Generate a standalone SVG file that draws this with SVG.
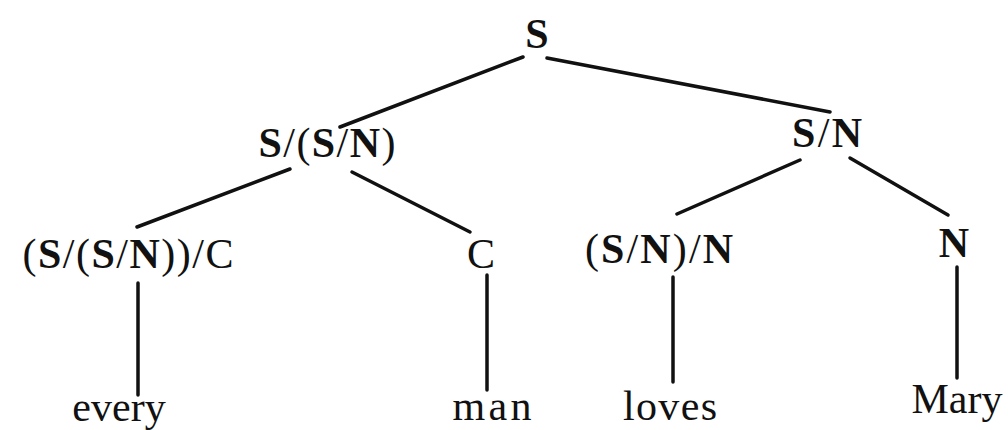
<svg xmlns="http://www.w3.org/2000/svg" width="1008" height="430" viewBox="0 0 1008 430">
<style>
.t{font-family:"Liberation Serif","Times New Roman",serif;font-size:42px;fill:#111;text-anchor:middle}
.b{font-weight:bold}
.e{stroke:#111;stroke-width:3.5;stroke-linecap:round;fill:none}
</style>
<rect width="1008" height="430" fill="#fff"/>
<g id="connectors" class="e">
<line x1="523" y1="57" x2="340" y2="127"/>
<line x1="547" y1="58" x2="830" y2="112"/>
<line x1="290" y1="169" x2="137" y2="227"/>
<line x1="352" y1="172" x2="470" y2="232"/>
<line x1="800" y1="160" x2="677" y2="214"/>
<line x1="850" y1="158" x2="948" y2="215"/>
<line x1="138" y1="283" x2="138" y2="395"/>
<line x1="487" y1="275" x2="487" y2="390"/>
<line x1="673" y1="277" x2="673" y2="382"/>
<line x1="957" y1="267" x2="957" y2="378"/>
</g>
<g id="n-S"><text class="t b" x="537" y="48" font-size="44">S</text></g>
<g id="n-SSN"><text class="t" x="327" y="157" textLength="137" lengthAdjust="spacing"><tspan class="b">S</tspan>/(<tspan class="b">S</tspan>/<tspan class="b">N</tspan>)</text></g>
<g id="n-SN"><text class="t" x="827" y="147" textLength="70" lengthAdjust="spacing"><tspan class="b">S</tspan>/<tspan class="b">N</tspan></text></g>
<g id="n-Det"><text class="t" x="128" y="268" textLength="211" lengthAdjust="spacing">(<tspan class="b">S</tspan>/(<tspan class="b">S</tspan>/<tspan class="b">N</tspan>))/C</text></g>
<g id="n-C"><text class="t" x="481" y="268">C</text></g>
<g id="n-TV"><text class="t" x="659" y="263" textLength="148" lengthAdjust="spacing">(<tspan class="b">S</tspan>/<tspan class="b">N</tspan>)/<tspan class="b">N</tspan></text></g>
<g id="n-N"><text class="t b" x="954" y="257">N</text></g>
<g id="w-every"><text class="t" x="119" y="421">every</text></g>
<g id="w-man"><text class="t" x="492" y="420" textLength="79" lengthAdjust="spacing">man</text></g>
<g id="w-loves"><text class="t" x="670" y="420" textLength="94" lengthAdjust="spacing">loves</text></g>
<g id="w-Mary"><text class="t" x="957" y="413">Mary</text></g>
</svg>
